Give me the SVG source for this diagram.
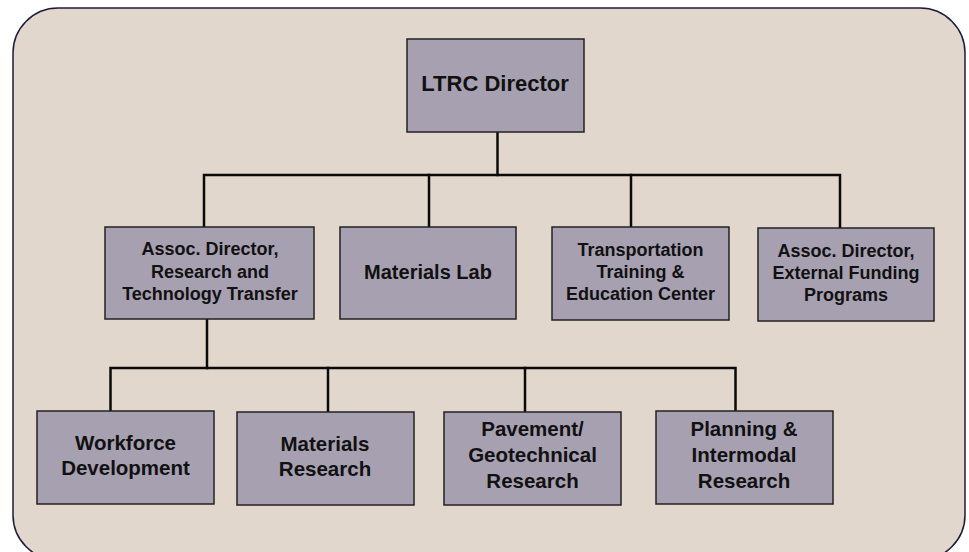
<svg xmlns="http://www.w3.org/2000/svg" width="969" height="552" viewBox="0 0 969 552">
  <style>
    .panel { fill: #E2D7CC; stroke: #1c1c3a; stroke-width: 1.5; }
    .box { fill: #A7A0B1; stroke: #222222; stroke-width: 1.5; }
    .link { fill: none; stroke: #0a0a0a; stroke-width: 2.5; stroke-linecap: square; }
    text { font-family: "Liberation Sans", Arial, sans-serif; font-weight: bold; fill: #111111; text-anchor: middle; }
    .t22 { font-size: 22px; }
    .t20 { font-size: 20px; }
    .t18 { font-size: 18px; }
    .t21 { font-size: 20.5px; }
  </style>

  <!-- background panel -->
  <rect class="panel" x="13" y="8" width="952" height="552" rx="45" ry="45"/>

  <!-- connectors -->
  <g id="connectors">
    <path class="link" d="M497.5,132 V175"/>
    <path class="link" d="M204,227 V175 H840 V228"/>
    <path class="link" d="M429,175 V227"/>
    <path class="link" d="M631,175 V227"/>
    <path class="link" d="M207,319 V368"/>
    <path class="link" d="M110.5,411 V368 H735.5 V411"/>
    <path class="link" d="M328,368 V412"/>
    <path class="link" d="M525,368 V412"/>
  </g>

  <!-- top level -->
  <g id="ltrc-director">
    <rect class="box" x="407" y="39" width="177" height="93"/>
    <text class="t22" x="495" y="91">LTRC Director</text>
  </g>

  <!-- second level -->
  <g id="assoc-director-rtt">
    <rect class="box" x="105" y="227" width="209" height="92"/>
    <text class="t18" x="210" y="255">Assoc. Director,</text>
    <text class="t18" x="210" y="278">Research and</text>
    <text class="t18" x="210" y="300">Technology Transfer</text>
  </g>

  <g id="materials-lab">
    <rect class="box" x="340" y="227" width="176" height="92"/>
    <text class="t20" x="428" y="279">Materials Lab</text>
  </g>

  <g id="training-center">
    <rect class="box" x="552" y="227" width="177" height="93"/>
    <text class="t18" x="640.5" y="256">Transportation</text>
    <text class="t18" x="640.5" y="278">Training &amp;</text>
    <text class="t18" x="640.5" y="300">Education Center</text>
  </g>

  <g id="assoc-director-external">
    <rect class="box" x="758" y="228" width="176" height="93"/>
    <text class="t18" x="846" y="256.5">Assoc. Director,</text>
    <text class="t18" x="846" y="279">External Funding</text>
    <text class="t18" x="846" y="300.5">Programs</text>
  </g>

  <!-- third level -->
  <g id="workforce-development">
    <rect class="box" x="37" y="411" width="177" height="93"/>
    <text class="t21" x="125.5" y="449.5">Workforce</text>
    <text class="t21" x="125.5" y="475">Development</text>
  </g>

  <g id="materials-research">
    <rect class="box" x="237" y="412" width="177" height="93"/>
    <text class="t21" x="325" y="451">Materials</text>
    <text class="t21" x="325" y="476">Research</text>
  </g>

  <g id="pavement-geotechnical">
    <rect class="box" x="444" y="412" width="177" height="93"/>
    <text class="t21" x="532.5" y="436">Pavement/</text>
    <text class="t21" x="532.5" y="462">Geotechnical</text>
    <text class="t21" x="532.5" y="488">Research</text>
  </g>

  <g id="planning-intermodal">
    <rect class="box" x="656" y="411" width="177" height="93"/>
    <text class="t21" x="744" y="436">Planning &amp;</text>
    <text class="t21" x="744" y="462">Intermodal</text>
    <text class="t21" x="744" y="488">Research</text>
  </g>
</svg>
